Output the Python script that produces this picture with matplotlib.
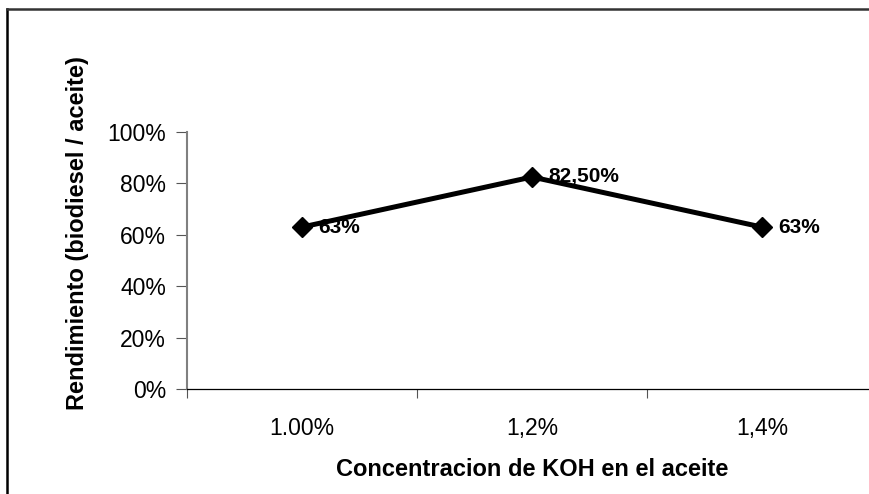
import matplotlib
matplotlib.use("Agg")
import matplotlib.pyplot as plt
from matplotlib.lines import Line2D
from matplotlib.ticker import FuncFormatter, FixedLocator

categories = ["1.00%", "1,2%", "1,4%"]
values = [0.63, 0.825, 0.63]
point_labels = ["63%", "82,50%", "63%"]
yticks = [0, 0.2, 0.4, 0.6, 0.8, 1.0]

plt.rcParams['font.family'] = ['Liberation Sans', 'DejaVu Sans']

W, H = 870, 494
fig = plt.figure(figsize=(W / 100, H / 100), dpi=100)

# outer frame (only top and left edges visible)
fig.add_artist(Line2D([7 / W, 7 / W], [0, 1 - 9 / H], color='black', lw=1.8, transform=fig.transFigure))
fig.add_artist(Line2D([7 / W, 1], [1 - 9 / H, 1 - 9 / H], color='#333333', lw=1.8, transform=fig.transFigure))

left, right = 187 / W, 877 / W
bottom, top = 1 - 389 / H, 1 - 132 / H
ax = fig.add_axes([left, bottom, right - left, top - bottom])

x = list(range(len(categories)))
ax.plot(x, values, color='black', lw=3.6, marker='D', markersize=10, clip_on=False, zorder=3)
for xi, v, lab in zip(x, values, point_labels):
    ax.annotate(lab, (xi, v), xytext=(12, 0), textcoords='offset points',
                ha='left', va='center', fontsize=15, fontweight='bold')

ax.set_xlim(-0.5, len(categories) - 0.5)
ax.set_ylim(0, 1.0)
ax.set_yticks(yticks)
ax.yaxis.set_major_formatter(FuncFormatter(lambda v, p: f"{v * 100:.0f}%"))

ax.set_xticks(x)
ax.set_xticklabels(categories)
ax.xaxis.set_minor_locator(FixedLocator([-0.5, 0.5, 1.5, 2.5]))
ax.tick_params(axis='x', which='major', length=0, pad=20, labelsize=16.5)
ax.tick_params(axis='x', which='minor', length=6.5, width=0.8, color='#555555')
ax.tick_params(axis='y', which='major', length=8, width=0.8, color='#555555', labelsize=16.5, pad=7)

for s in ['top', 'right']:
    ax.spines[s].set_visible(False)
ax.spines['left'].set_color('#808080')
ax.spines['left'].set_linewidth(1.5)
ax.spines['bottom'].set_color('black')
ax.spines['bottom'].set_linewidth(0.9)

ax.set_xlabel("Concentracion de KOH en el aceite", fontsize=17, fontweight='bold', labelpad=13)
fig.text(78 / W, 1 - 233 / H, "Rendimiento (biodiesel / aceite)", rotation=90,
         ha='center', va='center', fontsize=17, fontweight='bold')

fig.savefig("out.png", dpi=100)
